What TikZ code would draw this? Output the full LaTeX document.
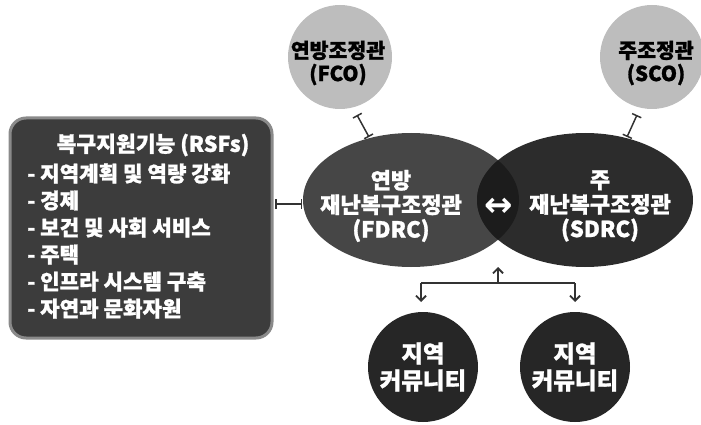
\documentclass[tikz,border=0pt]{standalone}
\usepackage{fontspec}
\setmainfont{Noto Sans CJK KR}[BoldFeatures={FakeBold=1.2}]
\newfontfamily\symfont{DejaVu Sans}
\usetikzlibrary{shapes.geometric,arrows.meta}
\definecolor{boxfill}{HTML}{3C3C3C}
\definecolor{boxline}{HTML}{8A8A8A}
\definecolor{fdrcfill}{HTML}{464646}
\definecolor{sdrcfill}{HTML}{2C2C2C}
\definecolor{lensfill}{HTML}{1C1C1C}
\definecolor{cofill}{HTML}{BDBDBD}
\definecolor{comfill}{HTML}{262626}
\definecolor{linecol}{HTML}{333333}
\tikzset{
  ellnode/.style={ellipse, minimum width=216pt, minimum height=134pt, inner sep=0pt},
  conode/.style={circle, fill=cofill, minimum size=104pt, inner sep=0pt},
  cotext/.style={align=center, inner sep=0pt, font=\fontsize{20.5}{23}\selectfont\bfseries, text=black},
  comnode/.style={circle, fill=comfill, minimum size=110pt, inner sep=0pt, align=center,
    font=\fontsize{23.5}{27}\selectfont\bfseries, text=white},
  elltext/.style={align=center, inner sep=0pt, text=white, font=\fontsize{22}{24.5}\selectfont\bfseries},
  barlink/.style={line width=1.5pt, draw=linecol, {Bar[width=10pt]}-{Bar[width=10pt]}},
  arrlink/.style={line width=1.8pt, draw=linecol, -{Straight Barb[length=5pt,width=10pt]}},
  plainlink/.style={line width=1.8pt, draw=linecol},
}
\begin{document}
\begin{tikzpicture}[x=1pt,y=-1pt]
\useasboundingbox (0,0) rectangle (701,425);
% RSF box
\node[draw=boxline, line width=3pt, fill=boxfill, rounded corners=16pt,
  minimum width=262pt, minimum height=220pt, inner sep=0pt] (rsf) at (141,228) {};
\node[text=white, inner sep=0pt, font=\fontsize{21.5}{22}\selectfont\bfseries] (rsftitle) at (153,145) {복구지원기능 (RSFs)};
\node[anchor=west, inner sep=0pt, text=white, align=left, font=\fontsize{21.2}{27}\selectfont\bfseries] (rsflist) at (27,241)
 {- 지역계획 및 역량 강화\\- 경제\\- 보건 및 사회 서비스\\- 주택\\- 인프라 시스템 구축\\- 자연과 문화자원};
% ellipses
\node[ellnode, fill=fdrcfill] (fdrc) at (411,200) {};
\node[ellnode, fill=sdrcfill] (sdrc) at (585,200) {};
\begin{scope}
  \clip (411,200) ellipse (108pt and 67pt);
  \fill[lensfill] (585,200) ellipse (108pt and 67pt);
\end{scope}
\node[elltext] (fdrct) at (391,206) {연방\\재난복구조정관\\(FDRC)};
\node[elltext] (sdrct) at (600,206) {주\\재난복구조정관\\(SDRC)};
\node[text=white, inner sep=0pt, font=\fontsize{34}{34}\selectfont\symfont\bfseries] (dbl) at (499,207) {↔};
% coordinators
\node[conode] (fco) at (340,57) {};
\node[cotext] (fcot) at (338,63) {연방조정관\\(FCO)};
\node[conode] (sco) at (652,57) {};
\node[cotext] (scot) at (656,63) {주조정관\\(SCO)};
% communities
\node[comnode] (com1) at (423,367) {지역\\커뮤니티};
\node[comnode] (com2) at (575,367) {지역\\커뮤니티};
% connectors
\coordinate (f1) at (357,115);
\coordinate (f2) at (369,137);
\coordinate (s1) at (637,115);
\coordinate (s2) at (627,137);
\coordinate (r1) at (275,204);
\coordinate (r2) at (302,204);
\coordinate (j) at (498,283);
\coordinate (jl) at (421,283);
\coordinate (jr) at (575,283);
\draw[barlink] (f1) -- (f2);
\draw[barlink] (s1) -- (s2);
\draw[barlink] (r1) -- (r2);
\draw[plainlink] (jl) -- (jr);
\draw[arrlink] (j) -- (498,267);
\draw[arrlink] (jl) -- (jl |- 0,302);
\draw[arrlink] (jr) -- (jr |- 0,302);
\end{tikzpicture}
\end{document}
